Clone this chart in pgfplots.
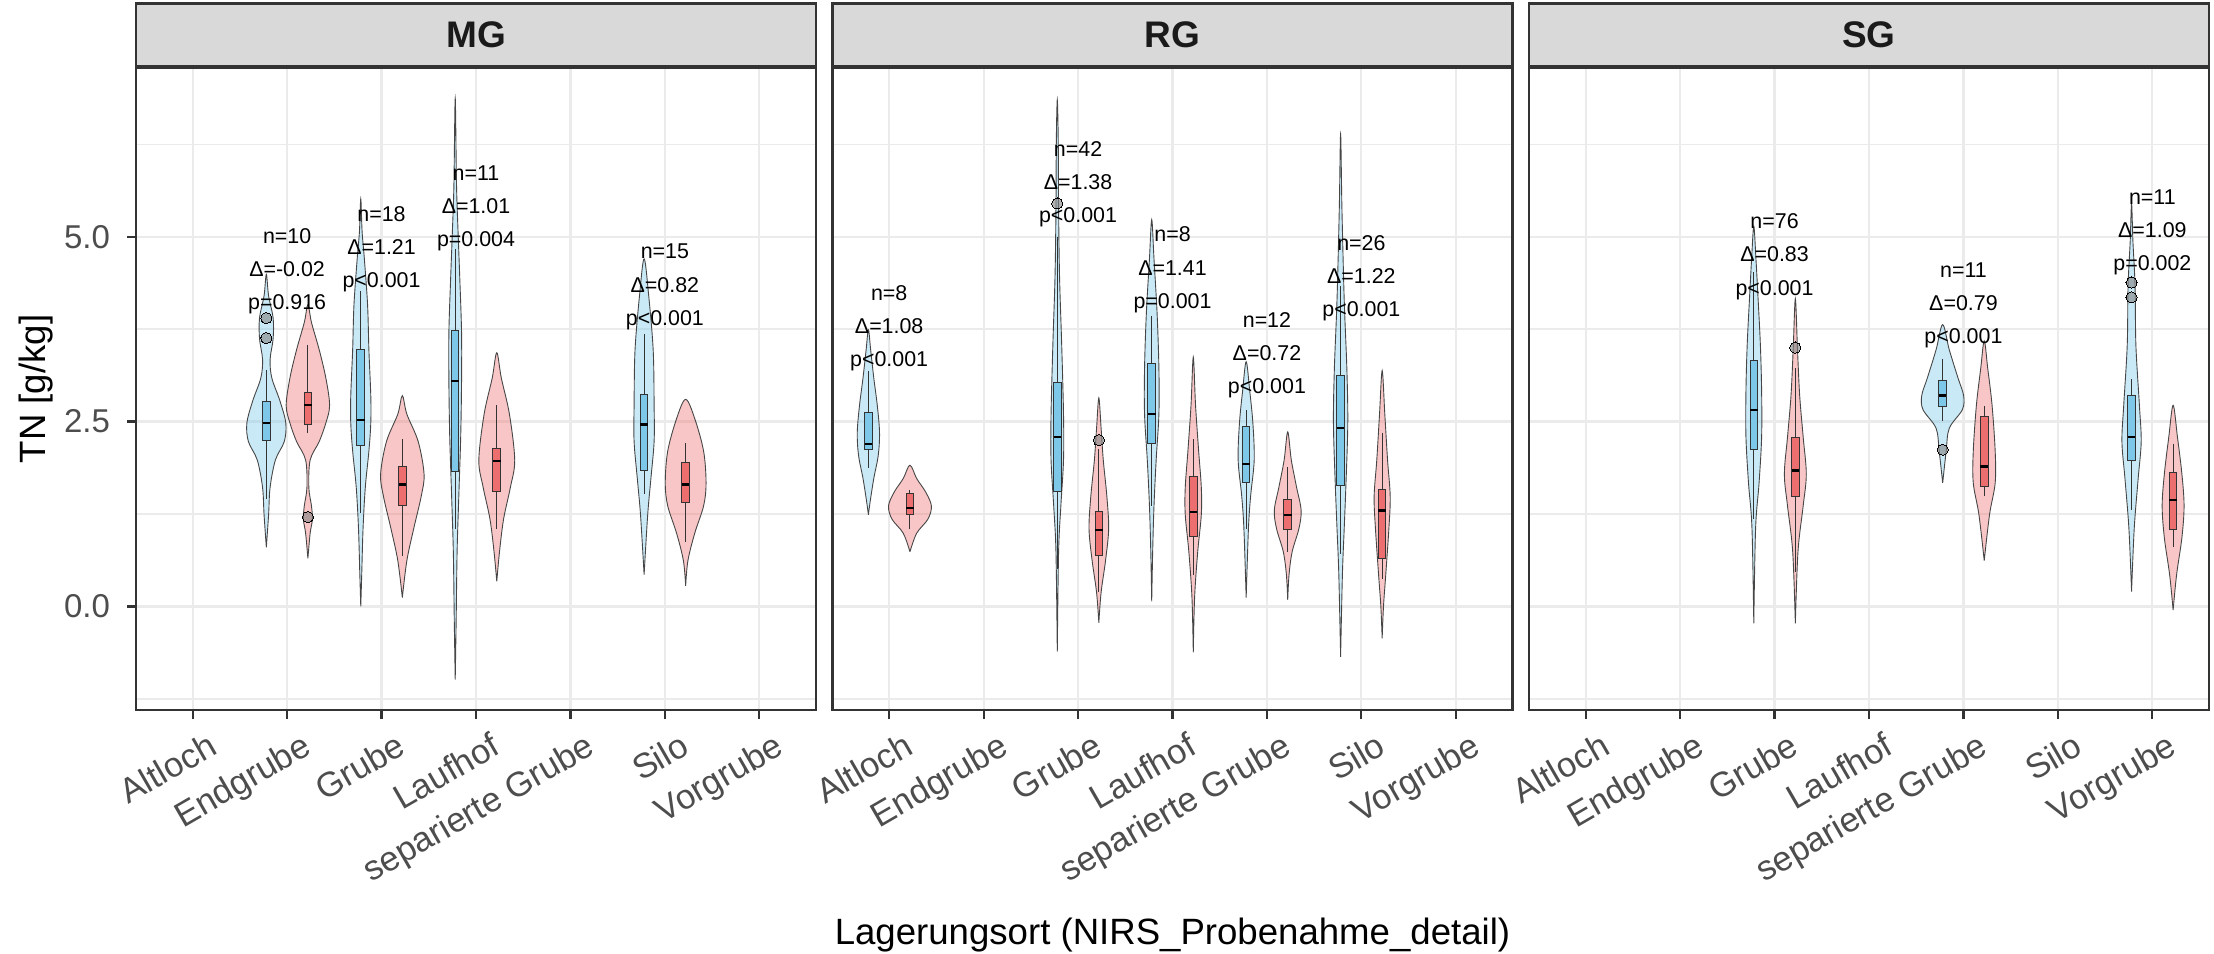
\documentclass[border=0pt]{standalone}
\usepackage{fontspec}
\setmainfont{Liberation Sans}
\usepackage{pgfplots}
\pgfplotsset{compat=1.18}
\usepgfplotslibrary{statistics}
\definecolor{grey20}{HTML}{333333}
\definecolor{grey30}{HTML}{4D4D4D}
\definecolor{grey85}{HTML}{D9D9D9}
\definecolor{grey92}{HTML}{EBEBEB}
\definecolor{grey10}{HTML}{1A1A1A}
\definecolor{vB}{RGB}{135,206,235}
\definecolor{vR}{RGB}{240,128,128}
\definecolor{bB}{RGB}{125,200,232}
\definecolor{bR}{RGB}{236,110,110}
\definecolor{vline}{RGB}{70,70,70}

\newcommand\violin[5]{%
  \gdef\vR{}\gdef\vL{}%
  \foreach \yy/\ww in {#5}{%
    \pgfmathsetmacro\xr{#1+\ww}%
    \pgfmathsetmacro\xl{#1-\ww}%
    \xdef\vR{\vR(\xr,\yy)}%
    \xdef\vL{(\xl,\yy)\vL}%
  }%
  \edef\vtmp{\noexpand\addplot[#2] coordinates {(#1,#3)\vR(#1,#4)\vL(#1,#3)};}%
  \vtmp
}
\newcommand\bbox[7]{%
  \addplot[#7, boxplot prepared={draw position=#1, lower whisker=#2, lower quartile=#3, median=#4, upper quartile=#5, upper whisker=#6}] coordinates {};
}
\tikzset{
  ann/.style={align=center, font=\fontsize{10.7bp}{16.6bp}\selectfont, inner sep=0pt, text=black},
  strip/.style={anchor=south, minimum width=340bp, minimum height=31.5bp,
      inner sep=0pt, fill=grey85, draw=grey20, line width=1.3bp,
      font=\bfseries\fontsize{18.5bp}{21bp}\selectfont, text=grey10},
}
\pgfplotsset{
  violinB/.style={smooth, tension=0.55, fill=vB, fill opacity=0.45, draw=vline, line width=0.45bp, mark=none},
  violinR/.style={smooth, tension=0.55, fill=vR, fill opacity=0.45, draw=vline, line width=0.45bp, mark=none},
  boxcommon/.style={draw=grey20, line width=0.5bp, mark=none, solid,
    boxplot/draw direction=y, boxplot/box extend=0.08, boxplot/whisker extend=0,
    boxplot/every median/.style={line width=1.2bp, draw=black}},
  boxB/.style={boxcommon, fill=bB},
  boxR/.style={boxcommon, fill=bR},
  outl/.style={only marks, mark=*, mark size=2.8bp, draw=none,
    mark options={fill=gray, draw=none, line width=0pt, fill opacity=0.6}},
  panel/.style={
    scale only axis, width=340bp, height=321bp,
    xmin=-0.6, xmax=6.6, ymin=-1.40, ymax=7.28,
    clip=false,
    xtick={0,...,6},
    xticklabels={Altloch,Endgrube,Grube,Laufhof,separierte Grube,Silo,Vorgrube},
    ytick={0,2.5,5}, minor ytick={-1.25,1.25,3.75,6.25},
    grid=both,
    major grid style={grey92, line width=1.1bp},
    minor grid style={grey92, line width=0.6bp},
    tick align=outside, major tick length=4.5bp, minor tick length=0pt,
    tick pos=left,
    tick style={grey20, line width=1.1bp},
    axis line style={grey20, line width=1.3bp},
    xticklabel style={rotate=30, anchor=north east, inner sep=0pt,
      font=\fontsize{17.3bp}{20bp}\selectfont, text=grey30, xshift=3bp, yshift=-8.5bp},
    yticklabel style={anchor=east, inner sep=0pt,
      font=\fontsize{16.5bp}{19bp}\selectfont, text=grey30, xshift=-8.35bp,
      /pgf/number format/fixed, /pgf/number format/fixed zerofill,
      /pgf/number format/precision=1, /pgf/number format/assume math mode=true},
  },
}

\begin{document}
\begin{tikzpicture}
\path[use as bounding box] (0,0) rectangle (1107bp,-477bp);

% ---------------- MG ----------------
\begin{axis}[panel, at={(68bp,-355bp)}, anchor=south west]
\violin{0.78}{violinB}{0.80}{4.49}{1.24/0.024, 1.61/0.04, 1.98/0.096, 2.23/0.19, 2.48/0.206, 2.78/0.144, 3.09/0.058, 3.34/0.04, 3.62/0.072, 3.90/0.072, 4.20/0.024}
\violin{1.22}{violinR}{0.65}{4.08}{0.99/0.024, 1.18/0.048, 1.36/0.038, 1.61/0.01, 1.98/0.024, 2.23/0.12, 2.48/0.19, 2.72/0.23, 3.09/0.19, 3.47/0.12, 3.84/0.038}
\violin{1.78}{violinB}{0.00}{5.51}{0.43/0.01, 1.05/0.024, 1.61/0.048, 2.10/0.086, 2.48/0.106, 2.85/0.106, 3.47/0.086, 4.08/0.072, 4.70/0.038, 5.07/0.014}
\violin{2.22}{violinR}{0.12}{2.85}{0.62/0.048, 1.05/0.12, 1.49/0.2, 1.79/0.23, 2.23/0.168, 2.6/0.048}
\violin{2.78}{violinB}{-0.99}{6.87}{-0.19/0.01, 0.74/0.02, 1.49/0.038, 2.29/0.058, 3.03/0.067, 3.71/0.067, 4.45/0.048, 5.07/0.03, 5.69/0.014}
\violin{3.22}{violinR}{0.34}{3.43}{0.74/0.029, 1.18/0.072, 1.61/0.144, 1.98/0.19, 2.6/0.134, 3.09/0.048}
\violin{4.78}{violinB}{0.43}{4.70}{1.24/0.038, 1.73/0.072, 2.23/0.106, 2.72/0.106, 3.47/0.096, 4.21/0.048}
\violin{5.22}{violinR}{0.28}{2.80}{0.62/0.024, 0.99/0.096, 1.36/0.19, 1.67/0.216, 2.10/0.19, 2.54/0.096}
\bbox{0.78}{1.45}{2.25}{2.48}{2.77}{3.20}{boxB}
\bbox{1.22}{2.35}{2.46}{2.72}{2.89}{3.53}{boxR}
\bbox{1.78}{1.27}{2.18}{2.52}{3.48}{4.27}{boxB}
\bbox{2.22}{0.68}{1.36}{1.65}{1.89}{2.26}{boxR}
\bbox{2.78}{1.05}{1.83}{3.05}{3.73}{4.83}{boxB}
\bbox{3.22}{1.05}{1.56}{1.97}{2.13}{2.72}{boxR}
\bbox{4.78}{1.52}{1.84}{2.46}{2.86}{3.68}{boxB}
\bbox{5.22}{0.87}{1.41}{1.65}{1.94}{2.21}{boxR}
\addplot[outl] coordinates {(0.78,3.90) (0.78,3.63) (1.22,1.21)};
\node[ann] at (axis cs:1,4.53) {n=10\\Δ=-0.02\\p=0.916};
\node[ann] at (axis cs:2,4.83) {n=18\\Δ=1.21\\p<0.001};
\node[ann] at (axis cs:3,5.38) {n=11\\Δ=1.01\\p=0.004};
\node[ann] at (axis cs:5,4.32) {n=15\\Δ=0.82\\p<0.001};
\node[strip] at (rel axis cs:0.5,1) {MG};
\end{axis}

% ---------------- RG ----------------
\begin{axis}[panel, at={(416.25bp,-355bp)}, anchor=south west,
  yticklabels={,,}, ytick style={draw=none}]
\violin{-0.22}{violinB}{1.24}{3.74}{1.42/0.019, 1.73/0.057, 2.04/0.104, 2.35/0.118, 2.72/0.094, 3.09/0.057, 3.47/0.024}
\violin{0.22}{violinR}{0.74}{1.91}{0.99/0.071, 1.18/0.19, 1.36/0.227, 1.55/0.165, 1.73/0.071}
\violin{1.78}{violinB}{-0.61}{6.85}{0.74/0.014, 1.36/0.038, 1.98/0.066, 2.6/0.066, 3.53/0.047, 4.46/0.024, 5.38/0.014, 6.31/0.01}
\violin{2.22}{violinR}{-0.22}{2.82}{0.19/0.024, 0.62/0.071, 1.05/0.104, 1.49/0.085, 1.98/0.047, 2.41/0.024}
\violin{2.78}{violinB}{0.07}{5.23}{0.74/0.01, 1.36/0.024, 1.98/0.047, 2.6/0.076, 3.22/0.076, 3.96/0.057, 4.70/0.024}
\violin{3.22}{violinR}{-0.62}{3.37}{0.12/0.014, 0.74/0.047, 1.24/0.085, 1.61/0.085, 2.10/0.057, 2.72/0.024}
\violin{3.78}{violinB}{0.12}{3.31}{1.05/0.024, 1.49/0.047, 1.98/0.085, 2.48/0.071, 2.91/0.038}
\violin{4.22}{violinR}{0.09}{2.36}{0.43/0.014, 0.74/0.047, 1.05/0.118, 1.30/0.142, 1.61/0.094, 1.98/0.038}
\violin{4.78}{violinB}{-0.68}{6.39}{0.43/0.019, 1.05/0.038, 1.67/0.057, 2.48/0.076, 3.22/0.066, 4.15/0.038, 5.38/0.014}
\violin{5.22}{violinR}{-0.43}{3.19}{0.0/0.014, 0.43/0.038, 1.05/0.071, 1.49/0.085, 1.98/0.057, 2.6/0.028}
\bbox{-0.22}{1.875}{2.12}{2.20}{2.62}{3.19}{boxB}
\bbox{0.22}{1.05}{1.24}{1.33}{1.53}{1.58}{boxR}
\bbox{1.78}{0.50}{1.55}{2.29}{3.03}{5.00}{boxB}
\bbox{2.22}{0.19}{0.69}{1.03}{1.29}{2.13}{boxR}
\bbox{2.78}{1.36}{2.20}{2.60}{3.28}{3.93}{boxB}
\bbox{3.22}{0.43}{0.95}{1.28}{1.76}{2.26}{boxR}
\bbox{3.78}{1.05}{1.67}{1.93}{2.43}{2.66}{boxB}
\bbox{4.22}{0.74}{1.04}{1.24}{1.44}{1.89}{boxR}
\bbox{4.78}{0.71}{1.64}{2.41}{3.12}{4.33}{boxB}
\bbox{5.22}{0.37}{0.65}{1.30}{1.58}{2.35}{boxR}
\addplot[outl] coordinates {(1.78,5.45) (2.22,2.25)};
\node[ann] at (axis cs:0,3.76) {n=8\\Δ=1.08\\p<0.001};
\node[ann] at (axis cs:2,5.71) {n=42\\Δ=1.38\\p<0.001};
\node[ann] at (axis cs:3,4.55) {n=8\\Δ=1.41\\p=0.001};
\node[ann] at (axis cs:4,3.40) {n=12\\Δ=0.72\\p<0.001};
\node[ann] at (axis cs:5,4.44) {n=26\\Δ=1.22\\p<0.001};
\node[strip] at (rel axis cs:0.5,1) {RG};
\end{axis}

% ---------------- SG ----------------
\begin{axis}[panel, at={(764.5bp,-355bp)}, anchor=south west,
  yticklabels={,,}, ytick style={draw=none}]
\violin{1.78}{violinB}{-0.23}{5.14}{1.05/0.019, 1.67/0.056, 2.29/0.083, 2.91/0.083, 3.53/0.07, 4.15/0.046, 4.70/0.023}
\violin{2.22}{violinR}{-0.23}{4.16}{0.74/0.028, 1.36/0.083, 1.79/0.116, 2.29/0.083, 2.85/0.046, 3.47/0.023}
\violin{3.78}{violinB}{1.67}{3.81}{2.10/0.037, 2.41/0.07, 2.66/0.208, 2.85/0.222, 3.09/0.162, 3.47/0.07}
\violin{4.22}{violinR}{0.62}{3.59}{1.24/0.056, 1.67/0.116, 2.10/0.116, 2.72/0.083, 3.22/0.037}
\violin{5.78}{violinB}{0.20}{5.45}{1.05/0.028, 1.73/0.07, 2.23/0.102, 2.72/0.083, 3.53/0.046, 4.33/0.037, 4.95/0.014}
\violin{6.22}{violinR}{-0.05}{2.72}{0.43/0.037, 0.93/0.093, 1.36/0.116, 1.79/0.093, 2.29/0.046}
\bbox{1.78}{1.18}{2.12}{2.66}{3.32}{4.52}{boxB}
\bbox{2.22}{0.46}{1.49}{1.84}{2.28}{3.22}{boxR}
\bbox{3.78}{2.51}{2.70}{2.85}{3.06}{3.35}{boxB}
\bbox{4.22}{1.49}{1.62}{1.89}{2.57}{2.71}{boxR}
\bbox{5.78}{1.30}{1.97}{2.29}{2.85}{3.08}{boxB}
\bbox{6.22}{0.80}{1.04}{1.44}{1.81}{2.20}{boxR}
\addplot[outl] coordinates {(2.22,3.50) (3.78,2.12) (5.78,4.38) (5.78,4.18)};
\node[ann] at (axis cs:2,4.73) {n=76\\Δ=0.83\\p<0.001};
\node[ann] at (axis cs:4,4.07) {n=11\\Δ=0.79\\p<0.001};
\node[ann] at (axis cs:6,5.06) {n=11\\Δ=1.09\\p=0.002};
\node[strip] at (rel axis cs:0.5,1) {SG};
\end{axis}

\node[rotate=90, anchor=base, inner sep=0pt, font=\fontsize{18.3bp}{22bp}\selectfont] at (22.5bp,-194.5bp) {TN [g/kg]};
\node[anchor=base, inner sep=0pt, font=\fontsize{18.3bp}{22bp}\selectfont] at (586.25bp,-472bp) {Lagerungsort (NIRS\_Probenahme\_detail)};
\end{tikzpicture}
\end{document}
